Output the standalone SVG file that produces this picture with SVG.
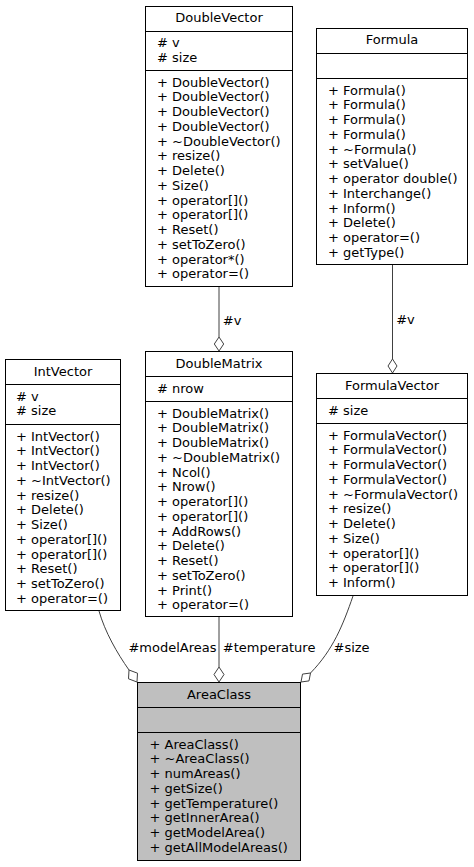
<svg xmlns="http://www.w3.org/2000/svg" width="474" height="867" viewBox="0 0 474 867">
<style>
text{font-family:"DejaVu Sans",sans-serif;font-size:13px;fill:#000}
.t{text-anchor:middle}
.box{fill:#fff;stroke:#000;stroke-width:1}
.root{fill:#bfbfbf;stroke:#000;stroke-width:1}
.sep{stroke:#000;stroke-width:1}
.edge{fill:none;stroke:#404040;stroke-width:1}
.dia{fill:#fff;stroke:#404040;stroke-width:1}
</style>
<rect width="474" height="867" fill="#fff"/>
<g id="connectors">
<path class="edge" d="M219,287 V337"/>
<polygon class="dia" points="219,337 223.7,344 219,351 214.3,344"/>
<text x="222.8" y="325">#v</text>
<path class="edge" d="M392.5,265 V359"/>
<polygon class="dia" points="392.5,359 397,366 392.5,373 388,366"/>
<text x="396.2" y="324">#v</text>
<path class="edge" d="M99,611 C105,632 117,653 129,670"/>
<polygon class="dia" points="129,670 137.5,673.2 137,682 128.5,678.8"/>
<text x="216.5" y="652" text-anchor="end">#modelAreas</text>
<path class="edge" d="M219,617 V667"/>
<polygon class="dia" points="219,667 224,674.5 219,682 214,674.5"/>
<text x="222.8" y="652">#temperature</text>
<path class="edge" d="M353,596 C343,625 333,650 310.5,673"/>
<polygon class="dia" points="310.5,673 309,680.9 301,682 302.5,674.1"/>
<text x="333.5" y="652">#size</text>
</g>
<g id="DoubleVector">
<rect class="box" x="145.5" y="6.5" width="147" height="280"/>
<line class="sep" x1="145.5" y1="31.5" x2="292.5" y2="31.5"/>
<line class="sep" x1="145.5" y1="70.5" x2="292.5" y2="70.5"/>
<text class="t" x="219" y="22">DoubleVector</text>
<text x="157" y="47"><tspan x="157"># v</tspan><tspan x="157" dy="14.75"># size</tspan></text>
<text x="157" y="86.7"><tspan x="157">+ DoubleVector()</tspan><tspan x="157" dy="14.75">+ DoubleVector()</tspan><tspan x="157" dy="14.75">+ DoubleVector()</tspan><tspan x="157" dy="14.75">+ DoubleVector()</tspan><tspan x="157" dy="14.75">+ ~DoubleVector()</tspan><tspan x="157" dy="14.75">+ resize()</tspan><tspan x="157" dy="14.75">+ Delete()</tspan><tspan x="157" dy="14.75">+ Size()</tspan><tspan x="157" dy="14.75">+ operator[]()</tspan><tspan x="157" dy="14.75">+ operator[]()</tspan><tspan x="157" dy="14.75">+ Reset()</tspan><tspan x="157" dy="14.75">+ setToZero()</tspan><tspan x="157" dy="14.75">+ operator*()</tspan><tspan x="157" dy="14.75">+ operator=()</tspan></text>
</g>
<g id="Formula">
<rect class="box" x="316.5" y="28.5" width="151" height="236"/>
<line class="sep" x1="316.5" y1="53.5" x2="467.5" y2="53.5"/>
<line class="sep" x1="316.5" y1="78.5" x2="467.5" y2="78.5"/>
<text class="t" x="392" y="44">Formula</text>
<text x="328" y="94.5"><tspan x="328">+ Formula()</tspan><tspan x="328" dy="14.75">+ Formula()</tspan><tspan x="328" dy="14.75">+ Formula()</tspan><tspan x="328" dy="14.75">+ Formula()</tspan><tspan x="328" dy="14.75">+ ~Formula()</tspan><tspan x="328" dy="14.75">+ setValue()</tspan><tspan x="328" dy="14.75">+ operator double()</tspan><tspan x="328" dy="14.75">+ Interchange()</tspan><tspan x="328" dy="14.75">+ Inform()</tspan><tspan x="328" dy="14.75">+ Delete()</tspan><tspan x="328" dy="14.75">+ operator=()</tspan><tspan x="328" dy="14.75">+ getType()</tspan></text>
</g>
<g id="IntVector">
<rect class="box" x="5.5" y="359.5" width="115" height="251"/>
<line class="sep" x1="5.5" y1="384.5" x2="120.5" y2="384.5"/>
<line class="sep" x1="5.5" y1="424.5" x2="120.5" y2="424.5"/>
<text class="t" x="63" y="375.5">IntVector</text>
<text x="16" y="400.5"><tspan x="16"># v</tspan><tspan x="16" dy="14.75"># size</tspan></text>
<text x="16" y="440.5"><tspan x="16">+ IntVector()</tspan><tspan x="16" dy="14.75">+ IntVector()</tspan><tspan x="16" dy="14.75">+ IntVector()</tspan><tspan x="16" dy="14.75">+ ~IntVector()</tspan><tspan x="16" dy="14.75">+ resize()</tspan><tspan x="16" dy="14.75">+ Delete()</tspan><tspan x="16" dy="14.75">+ Size()</tspan><tspan x="16" dy="14.75">+ operator[]()</tspan><tspan x="16" dy="14.75">+ operator[]()</tspan><tspan x="16" dy="14.75">+ Reset()</tspan><tspan x="16" dy="14.75">+ setToZero()</tspan><tspan x="16" dy="14.75">+ operator=()</tspan></text>
</g>
<g id="DoubleMatrix">
<rect class="box" x="145.5" y="351.5" width="147" height="265"/>
<line class="sep" x1="145.5" y1="376.5" x2="292.5" y2="376.5"/>
<line class="sep" x1="145.5" y1="401.5" x2="292.5" y2="401.5"/>
<text class="t" x="219" y="367.5">DoubleMatrix</text>
<text x="157" y="392.5"># nrow</text>
<text x="157" y="417.5"><tspan x="157">+ DoubleMatrix()</tspan><tspan x="157" dy="14.75">+ DoubleMatrix()</tspan><tspan x="157" dy="14.75">+ DoubleMatrix()</tspan><tspan x="157" dy="14.75">+ ~DoubleMatrix()</tspan><tspan x="157" dy="14.75">+ Ncol()</tspan><tspan x="157" dy="14.75">+ Nrow()</tspan><tspan x="157" dy="14.75">+ operator[]()</tspan><tspan x="157" dy="14.75">+ operator[]()</tspan><tspan x="157" dy="14.75">+ AddRows()</tspan><tspan x="157" dy="14.75">+ Delete()</tspan><tspan x="157" dy="14.75">+ Reset()</tspan><tspan x="157" dy="14.75">+ setToZero()</tspan><tspan x="157" dy="14.75">+ Print()</tspan><tspan x="157" dy="14.75">+ operator=()</tspan></text>
</g>
<g id="FormulaVector">
<rect class="box" x="316.5" y="373.5" width="151" height="222"/>
<line class="sep" x1="316.5" y1="398.5" x2="467.5" y2="398.5"/>
<line class="sep" x1="316.5" y1="423.5" x2="467.5" y2="423.5"/>
<text class="t" x="392" y="389.5">FormulaVector</text>
<text x="328" y="414.5"># size</text>
<text x="328" y="439.5"><tspan x="328">+ FormulaVector()</tspan><tspan x="328" dy="14.75">+ FormulaVector()</tspan><tspan x="328" dy="14.75">+ FormulaVector()</tspan><tspan x="328" dy="14.75">+ FormulaVector()</tspan><tspan x="328" dy="14.75">+ ~FormulaVector()</tspan><tspan x="328" dy="14.75">+ resize()</tspan><tspan x="328" dy="14.75">+ Delete()</tspan><tspan x="328" dy="14.75">+ Size()</tspan><tspan x="328" dy="14.75">+ operator[]()</tspan><tspan x="328" dy="14.75">+ operator[]()</tspan><tspan x="328" dy="14.75">+ Inform()</tspan></text>
</g>
<g id="AreaClass">
<rect class="root" x="137.5" y="682.5" width="163" height="178"/>
<line class="sep" x1="137.5" y1="707.5" x2="300.5" y2="707.5"/>
<line class="sep" x1="137.5" y1="732.5" x2="300.5" y2="732.5"/>
<text class="t" x="219" y="698.5">AreaClass</text>
<text x="149.5" y="748.5"><tspan x="149.5">+ AreaClass()</tspan><tspan x="149.5" dy="14.75">+ ~AreaClass()</tspan><tspan x="149.5" dy="14.75">+ numAreas()</tspan><tspan x="149.5" dy="14.75">+ getSize()</tspan><tspan x="149.5" dy="14.75">+ getTemperature()</tspan><tspan x="149.5" dy="14.75">+ getInnerArea()</tspan><tspan x="149.5" dy="14.75">+ getModelArea()</tspan><tspan x="149.5" dy="14.75">+ getAllModelAreas()</tspan></text>
</g>
</svg>
